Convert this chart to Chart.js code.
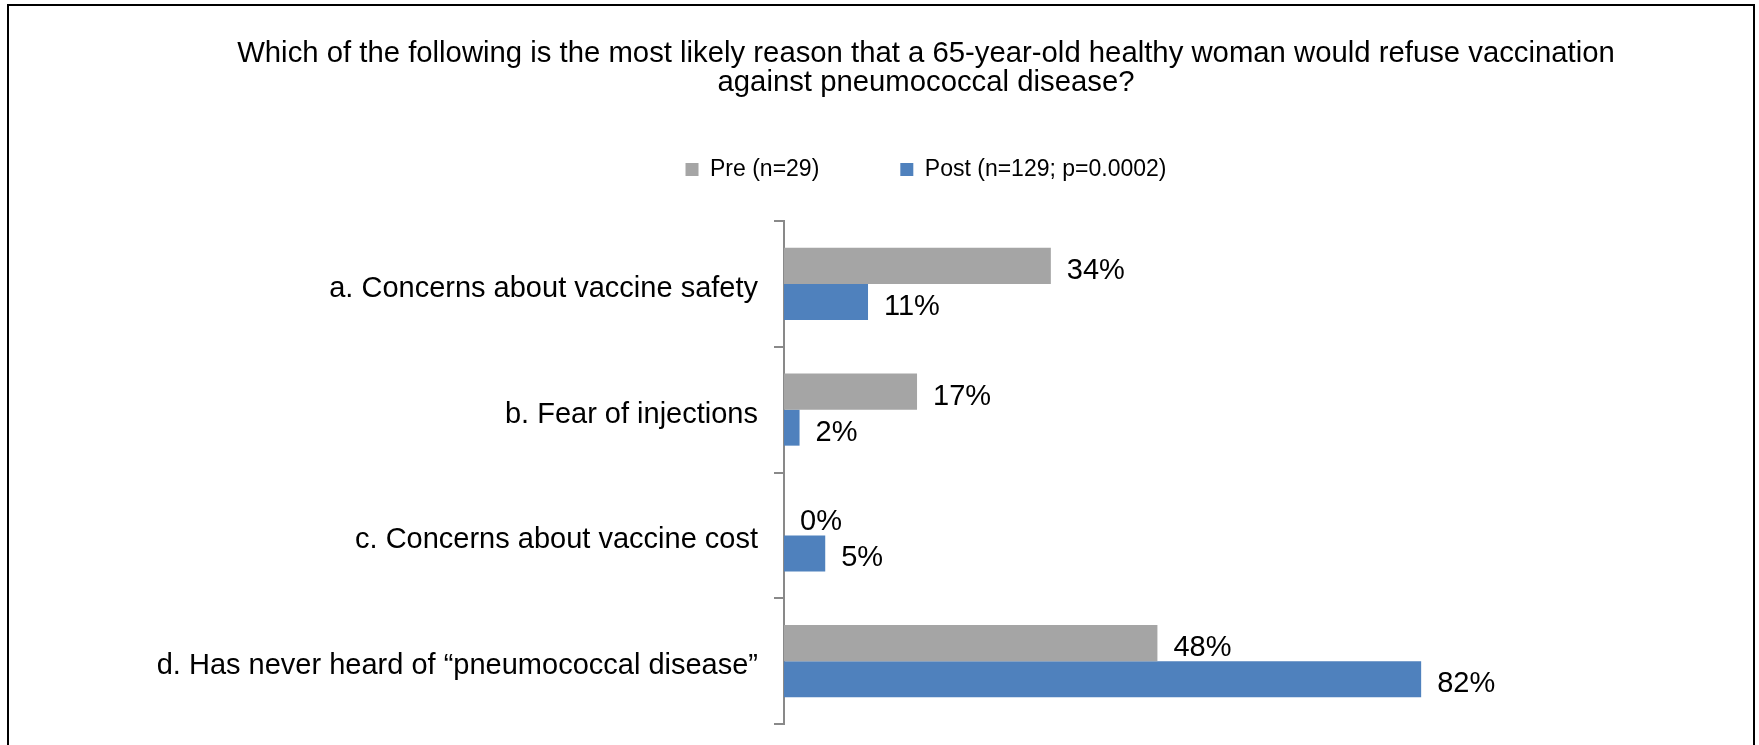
<!DOCTYPE html>
<html>
<head>
<meta charset="utf-8">
<script src="https://cdn.jsdelivr.net/npm/chart.js@4"></script>
<style>
  html, body { margin: 0; padding: 0; background: #fff; overflow: hidden; }
  #frame {
    position: absolute; left: 7px; top: 4px; width: 1748px; height: 780px;
    box-sizing: border-box; border: 2px solid #000; pointer-events: none;
  }
  #chart { position: absolute; left: 0; top: 0; }
</style>
</head>
<body>
<canvas id="chart" width="1759" height="745"></canvas>
<div id="frame"></div>
<script>
const categories = [
  "a. Concerns about vaccine safety",
  "b. Fear of injections",
  "c. Concerns about vaccine cost",
  "d. Has never heard of \u201cpneumococcal disease\u201d"
];
const preValues = [34.3, 17.1, 0, 48.0];
const postValues = [10.8, 2.0, 5.3, 81.9];
const seriesNames = ["Pre (n=29)", "Post (n=129; p=0.0002)"];
const titleLines = [
  "Which of the following is the most likely reason that a 65-year-old healthy woman would refuse vaccination",
  "against pneumococcal disease?"
];

Chart.defaults.font.family = '"Liberation Sans", Arial, sans-serif';
Chart.defaults.color = "#000";

// value labels to the right of each bar
const barLabels = {
  id: "barLabels",
  afterDatasetsDraw(chart) {
    const ctx = chart.ctx;
    ctx.save();
    ctx.font = '29px "Liberation Sans", Arial, sans-serif';
    ctx.fillStyle = "#000";
    ctx.textAlign = "left";
    ctx.textBaseline = "middle";
    chart.data.datasets.forEach((ds, i) => {
      chart.getDatasetMeta(i).data.forEach((bar, j) => {
        ctx.fillText(Math.round(ds.data[j]) + "%", bar.x + 16, bar.y + 5);
      });
    });
    ctx.restore();
  }
};

new Chart(document.getElementById("chart"), {
  type: "bar",
  data: {
    labels: categories,
    datasets: [
      { label: seriesNames[0], data: preValues, backgroundColor: "#A5A5A5" },
      { label: seriesNames[1], data: postValues, backgroundColor: "#4F81BD" }
    ]
  },
  options: {
    indexAxis: "y",
    responsive: false,
    animation: false,
    categoryPercentage: 0.573,
    barPercentage: 1,
    layout: { padding: { left: 150, right: 57, top: 0, bottom: 21 } },
    plugins: {
      title: {
        display: true,
        text: titleLines,
        color: "#000",
        font: { size: 29.3, weight: "normal", lineHeight: 1.0 },
        padding: { top: 39, bottom: -20.6 }
      },
      legend: {
        position: "top",
        labels: {
          boxWidth: 13,
          boxHeight: 13,
          padding: 81,
          color: "#000",
          font: { size: 23 }
        }
      },
      tooltip: { enabled: false }
    },
    scales: {
      x: {
        type: "linear",
        position: "top",
        min: 0,
        max: 118,
        display: false,
        afterFit: s => { s.height = 30; }
      },
      y: {
        grid: {
          offset: true,
          drawOnChartArea: false,
          drawTicks: true,
          tickLength: 10,
          color: "#898989",
          lineWidth: 2
        },
        border: { display: true, color: "#898989", width: 2 },
        ticks: { padding: 16, labelOffset: 5, color: "#000", font: { size: 29, lineHeight: 0.3 } },
        afterFit: s => { s.width = 634; }
      }
    }
  },
  plugins: [barLabels]
});
</script>
</body>
</html>
